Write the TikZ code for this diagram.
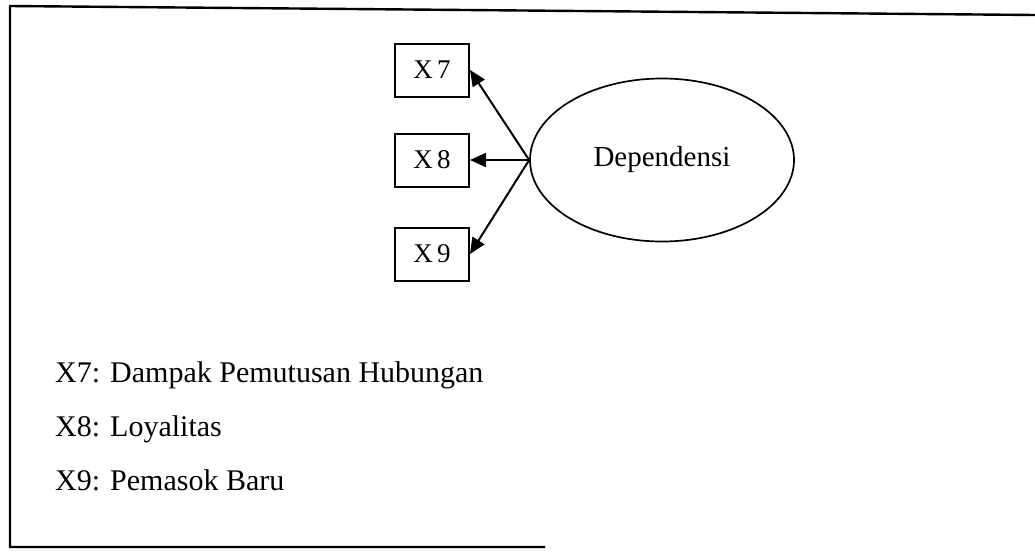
\documentclass[tikz,border=0pt]{standalone}
\usepackage{fontspec}
\setmainfont{Liberation Serif}
\usepackage{tikz}
\usetikzlibrary{arrows.meta, positioning, shapes.geometric}

\begin{document}
\begin{tikzpicture}[x=1pt, y=-1pt,
        indbox/.style={draw, line width=2pt, minimum width=74pt, minimum height=53pt, inner sep=0pt, font=\fontsize{27}{32}\selectfont},
        latent/.style={draw, ellipse, line width=1.7pt, minimum width=264pt, minimum height=163pt, font=\fontsize{29}{34}\selectfont},
        legend/.style={anchor=base west, inner sep=0pt, font=\fontsize{30}{36}\selectfont},
        load/.style={draw, line width=2pt, -{Triangle[length=16pt, width=14pt]}}
    ]
    \useasboundingbox (0,0) rectangle (1035,555);
    % frame
    \draw[line width=2.4pt] (1035,15) -- (10,6) -- (10,547) -- (545,547);
    % model
    \node[latent] (dep) at (662,160) {Dependensi};
    \node[indbox] (x7) at (432,70) {X\,7};
    \node[indbox] (x8) at (432,160) {X\,8};
    \node[indbox] (x9) at (432,254) {X\,9};
    \draw[load] (dep.west) -- (x7.east);
    \draw[load] (dep.west) -- (x8.east);
    \draw[load] (dep.west) -- (x9.east);
    % keterangan
    \node[legend] (k7) at (55,382) {X7: Dampak Pemutusan Hubungan};
    \node[legend] (k8) at (55,436) {X8: Loyalitas};
    \node[legend] (k9) at (55,490) {X9: Pemasok Baru};
\end{tikzpicture}
\end{document}
